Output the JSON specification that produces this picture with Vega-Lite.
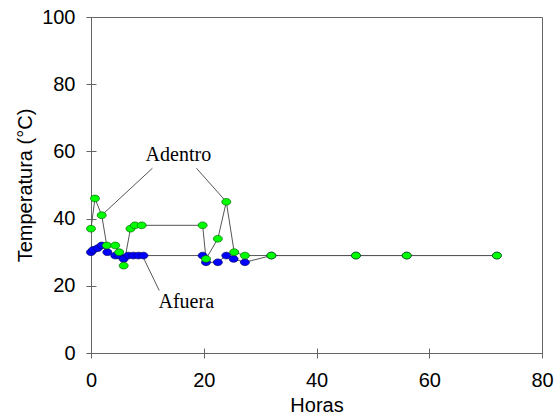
{
  "$schema": "https://vega.github.io/schema/vega-lite/v6.json",
  "width": 451,
  "height": 336,
  "autosize": {"type": "none"},
  "padding": {"left": 91, "top": 17, "right": 17, "bottom": 63},
  "background": "white",
  "config": {
    "view": {"stroke": "#666666", "strokeWidth": 1},
    "axis": {
      "labelFont": "Liberation Sans",
      "labelFontSize": 20,
      "labelColor": "black",
      "labelFlush": false,
      "labelOverlap": false,
      "titleFont": "Liberation Sans",
      "titleFontSize": 20,
      "titleFontWeight": "normal",
      "titleColor": "black",
      "domain": false,
      "grid": false,
      "tickColor": "#666666",
      "tickSize": 10,
      "offset": -5,
      "labelPadding": 11
    }
  },
  "datasets": {
    "temps": [
      {"hora": 0, "temp": 30, "serie": "Afuera"},
      {"hora": 0.4, "temp": 30.7, "serie": "Afuera"},
      {"hora": 1.2, "temp": 31.2, "serie": "Afuera"},
      {"hora": 1.9, "temp": 32, "serie": "Afuera"},
      {"hora": 2.9, "temp": 30, "serie": "Afuera"},
      {"hora": 4.3, "temp": 29, "serie": "Afuera"},
      {"hora": 5.0, "temp": 29, "serie": "Afuera"},
      {"hora": 5.8, "temp": 28, "serie": "Afuera"},
      {"hora": 6.6, "temp": 29, "serie": "Afuera"},
      {"hora": 7.5, "temp": 29, "serie": "Afuera"},
      {"hora": 8.4, "temp": 29, "serie": "Afuera"},
      {"hora": 9.3, "temp": 29, "serie": "Afuera"},
      {"hora": 19.8, "temp": 29, "serie": "Afuera"},
      {"hora": 20.4, "temp": 27, "serie": "Afuera"},
      {"hora": 22.5, "temp": 27, "serie": "Afuera"},
      {"hora": 24, "temp": 29, "serie": "Afuera"},
      {"hora": 25.3, "temp": 28, "serie": "Afuera"},
      {"hora": 27.3, "temp": 27, "serie": "Afuera"},
      {"hora": 32, "temp": 29, "serie": "Afuera"},
      {"hora": 47, "temp": 29, "serie": "Afuera"},
      {"hora": 56, "temp": 29, "serie": "Afuera"},
      {"hora": 72, "temp": 29, "serie": "Afuera"},
      {"hora": 0, "temp": 37, "serie": "Adentro"},
      {"hora": 0.7, "temp": 46, "serie": "Adentro"},
      {"hora": 1.9, "temp": 41, "serie": "Adentro"},
      {"hora": 2.8, "temp": 32, "serie": "Adentro"},
      {"hora": 4.3, "temp": 32, "serie": "Adentro"},
      {"hora": 5.0, "temp": 30, "serie": "Adentro"},
      {"hora": 5.8, "temp": 26, "serie": "Adentro"},
      {"hora": 7.0, "temp": 37, "serie": "Adentro"},
      {"hora": 7.8, "temp": 38, "serie": "Adentro"},
      {"hora": 9.0, "temp": 38, "serie": "Adentro"},
      {"hora": 19.8, "temp": 38, "serie": "Adentro"},
      {"hora": 20.4, "temp": 28, "serie": "Adentro"},
      {"hora": 22.5, "temp": 34, "serie": "Adentro"},
      {"hora": 24, "temp": 45, "serie": "Adentro"},
      {"hora": 25.4, "temp": 30, "serie": "Adentro"},
      {"hora": 27.3, "temp": 29, "serie": "Adentro"},
      {"hora": 32, "temp": 29, "serie": "Adentro"},
      {"hora": 47, "temp": 29, "serie": "Adentro"},
      {"hora": 56, "temp": 29, "serie": "Adentro"},
      {"hora": 72, "temp": 29, "serie": "Adentro"}
    ],
    "leaders": [
      {"x1": 10.9, "y1": 55, "x2": 1.9, "y2": 41},
      {"x1": 18.7, "y1": 55, "x2": 24, "y2": 45},
      {"x1": 9.2, "y1": 28.7, "x2": 12.1, "y2": 18.6}
    ],
    "labels": [
      {"x": 15.5, "y": 58.8, "label": "Adentro"},
      {"x": 16.9, "y": 15.1, "label": "Afuera"}
    ]
  },
  "layer": [
    {
      "data": {"name": "leaders"},
      "mark": {"type": "rule", "color": "#555555", "strokeWidth": 1},
      "encoding": {
        "x": {"field": "x1", "type": "quantitative", "scale": {"domain": [0, 80], "nice": false}, "axis": {"values": [0, 20, 40, 60, 80], "title": "Horas", "titlePadding": 5, "labelPadding": 12}},
        "y": {"field": "y1", "type": "quantitative", "scale": {"domain": [0, 100], "nice": false}, "axis": {"values": [0, 20, 40, 60, 80, 100], "title": "Temperatura (°C)", "titlePadding": 6}},
        "x2": {"field": "x2"},
        "y2": {"field": "y2"}
      }
    },
    {
      "data": {"name": "temps"},
      "mark": {"type": "line", "color": "#555555", "strokeWidth": 1},
      "encoding": {
        "x": {"field": "hora", "type": "quantitative"},
        "y": {"field": "temp", "type": "quantitative"},
        "detail": {"field": "serie"},
        "order": {"field": "hora"}
      }
    },
    {
      "data": {"name": "temps"},
      "mark": {"type": "point", "filled": true, "opacity": 1, "size": 81, "shape": "M -1 0 A 1 0.75 0 1 0 1 0 A 1 0.75 0 1 0 -1 0 Z", "strokeWidth": 0.7},
      "encoding": {
        "x": {"field": "hora", "type": "quantitative"},
        "y": {"field": "temp", "type": "quantitative"},
        "fill": {"field": "serie", "type": "nominal", "scale": {"domain": ["Adentro", "Afuera"], "range": ["#00ff00", "#0000ff"]}, "legend": null},
        "stroke": {"field": "serie", "type": "nominal", "scale": {"domain": ["Adentro", "Afuera"], "range": ["#006600", "#000066"]}, "legend": null}
      }
    },
    {
      "mark": {"type": "rule", "color": "#c0c0c0", "strokeWidth": 2},
      "encoding": {
        "x": {"datum": 80},
        "y": {"datum": 0},
        "y2": {"datum": 100}
      }
    },
    {
      "data": {"name": "labels"},
      "mark": {"type": "text", "font": "Liberation Serif", "fontSize": 20, "color": "black", "align": "center", "baseline": "middle"},
      "encoding": {
        "x": {"field": "x", "type": "quantitative"},
        "y": {"field": "y", "type": "quantitative"},
        "text": {"field": "label"}
      }
    }
  ]
}
